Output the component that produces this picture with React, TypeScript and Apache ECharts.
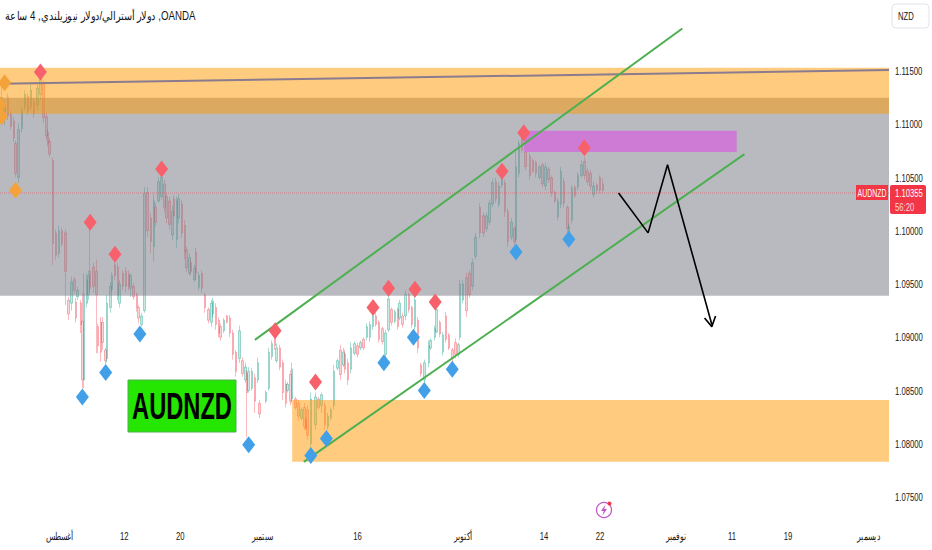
import React, { useEffect, useRef } from "react";
import * as echarts from "echarts";

// Prices are kept in pips above PRICE_BASE; time in 4-hour bars.
const PRICE_BASE = 1.07;
const PIP = 0.0001;
const LAST_PRICE = 1.10355;

// [bar, open, close, low, high]
const augustBars = [
[1,405,425,399,437],[3,404,418,399,423],[5,425,408,404,429],[7,410,398,395,413],[9,403,387,383,407],[10,382,354,350,385],[12,350,395,345,401],[14,396,412,392,416],[16,416,428,413,432],[18,426,412,409,429],[20,416,432,413,438],[22,421,410,406,425],[24,418,434,413,439],[26,428,445,423,448],[28,438,406,401,441],[30,407,389,385,411],[31,392,382,379,395],[32,384,372,369,387],[34,366,288,268,369],[36,298,277,273,301],[38,279,300,275,305],[40,300,288,285,303],[42,298,262,230,301],
[44,235,222,216,238],[46,232,252,225,257],[48,254,244,241,257],[49,233,218,214,237],[50,238,244,235,247],[52,232,212,204,235],[53,215,160,152,242],[54,160,240,152,260],[56,232,254,228,260],[57,240,258,235,263],[58,262,246,242,302],[60,266,248,242,270],[62,262,240,185,273],[63,210,192,185,213],[65,214,186,177,219],[66,214,195,188,219],[68,188,178,174,190],[69,180,232,176,240],[71,228,248,223,252],[72,245,258,242,261],[74,268,258,254,273],[76,266,240,235,270],[77,232,250,228,254],[79,260,248,244,263],[81,262,248,242,266],[83,259,248,244,263],[84,246,258,238,260],[86,248,238,235,251],[88,240,228,224,242],[89,228,218,213,230],[91,212,220,210,223],[93,225,335,223,341],[95,336,300,294,341],[97,312,290,279,317],[99,285,328,271,335],[100,322,308,304,326],[102,328,346,326,350],[104,332,350,329,352],[106,344,322,317,348],[107,332,312,307,335],[109,328,306,301,332],[111,296,318,291,324],[112,330,314,313,333],[114,292,328,284,332],[115,312,330,307,334],[117,325,298,293,329],[119,305,280,273,310],[120,282,265,261,285],[122,260,275,258,279],[123,270,262,258,273],[125,254,265,252,268],[126,280,260,254,284],[128,247,258,244,261],[130,260,246,242,263],[132,240,228,223,242],[134,226,216,213,228],[136,214,232,210,235],[137,222,234,219,237],[139,228,212,207,232],[141,216,204,200,219],[142,210,200,197,213],[144,206,216,204,218],[146,220,214,213,221],[148,218,204,200,221],[150,204,184,179,207],[152,186,168,163,188],[154,180,206,176,211],[156,178,166,163,181],[158,160,172,157,176],[159,166,148,106,169],[160,150,168,148,172],[162,152,168,150,171],[164,162,140,129,166],[166,160,176,157,181],[167,138,128,124,141],
];
const septemberBars = [
[171,140,148,138,150],[173,152,186,150,190],[175,182,194,179,197],[177,200,192,188,206],[178,178,190,176,194],[180,190,172,169,193],[182,176,148,141,179],[184,156,138,134,160],[185,150,156,148,158],[187,165,140,136,169],[188,142,170,138,176],[190,142,134,132,144],[192,138,126,122,141],[194,124,132,122,134],[196,134,116,113,138],[197,122,114,113,125],[198,132,108,104,136],[200,100,142,94,148],[203,118,144,113,148],[205,142,134,132,144],[207,136,146,129,148],[209,136,118,113,139],[211,116,126,113,129],[213,124,132,122,134],[215,136,168,132,174],[217,171,178,169,180],[219,188,165,160,193],[221,174,186,172,190],[222,184,170,166,188],[224,176,160,155,180],[226,170,190,166,195],[228,185,194,183,196],[230,192,184,181,195],[232,190,195,188,197],[234,198,190,188,200],[236,200,210,197,213],[238,200,212,196,215],[240,210,220,207,226],[242,220,212,210,223],[244,214,198,195,216],[246,208,196,193,210],[248,184,204,181,207],[250,207,236,205,240],[252,226,214,211,228],[254,215,224,213,226],[256,226,210,207,228],[257,218,232,216,235],[259,220,212,209,223],[261,220,240,216,244],[263,240,226,223,242],[265,228,212,209,230],[267,210,235,207,240],[269,216,190,185,219],[271,174,166,163,176],[273,160,176,157,179],[276,176,192,172,197],[277,190,197,188,199],[280,200,208,197,211],[281,205,226,204,232],[283,214,203,200,216],[285,186,202,183,205],[287,220,198,195,224],[289,202,190,188,204],[291,188,180,177,190],[293,195,184,180,199],[295,184,193,181,195],[296,200,250,197,254],
];
const octoberBars = [
[298,235,250,232,254],[300,256,225,219,261],[302,260,240,237,263],[304,248,270,244,274],[306,276,294,273,298],[309,322,298,293,326],[311,314,298,294,317],[313,302,314,299,317],[315,308,326,305,329],[317,325,345,322,349],[319,346,330,326,350],[321,325,342,322,346],[323,343,356,340,360],[325,345,318,313,348],[327,318,290,285,321],[329,294,308,291,312],[331,302,290,287,305],[332,292,360,289,374],[334,354,382,350,385],[336,388,376,373,392],[338,374,360,357,376],[341,370,352,348,373],[343,366,356,354,368],[345,364,354,350,366],[347,350,360,348,362],[349,362,344,341,364],[351,342,360,338,364],[353,358,348,345,360],[355,350,336,332,352],[357,336,328,326,338],[359,313,328,310,331],[361,325,356,321,360],[363,346,326,322,350],[365,322,302,298,324],[366,295,304,293,307],[368,310,340,307,343],[370,341,333,331,343],[372,341,352,338,355],[374,352,362,350,366],[376,365,352,348,369],[378,356,346,343,359],[380,354,342,338,357],[382,334,342,331,346],[384,343,338,335,345],[386,350,338,335,352],[388,344,338,335,349],
];

// [bar, pips]
const sellSignals = [[26,449],[58,308],[74,278],[104,358],[177,206],[203,158],[240,228],[250,246],[267,245],[280,233],[323,356],[337,392],[376,378]];
const buySignals = [[53,144],[68,167],[90,203],[160,99],[200,89],[210,105],[247,176],[266,200],[273,150],[291,170],[332,280],[366,292]];
const earlySignals = [[3,439],[0,418],[1,407],[10,338]];

// Drawings: [bar, pips]
const resistanceLine = [[0,438],[572,451]];
const channelUpper = [[164,197.5],[439,490]];
const channelLower = [[195.5,83],[479,372]];
const projectedPath = [[398,335.5],[417,298],[429.5,362],[458,212]];
const projectedHead = [[453.3,218],[458,210],[460.4,220]];
// Zones: [bar from, bar to, pips low, pips high]
const grayZone = [0,572,239,425];
const upperZone = [0,572,410,453];
const lowerZone = [188,572,83,141];
const purpleZone = [337,474,374,394];

const xTickBars = [38.6,80,116,169,230,298,350,386,435,471,507,559];
const xTickLabels = ["أغسطس","12","20","سبتمبر","16","أكتوبر","14","22","نوفمبر","11","19","ديسمبر"];
const yTicks = [1.075,1.08,1.085,1.09,1.095,1.1,1.105,1.11,1.115];

const TITLE = "دولار أسترالي/دولار نيوزيلندي, 4 ساعة ,OANDA";
const SYMBOL = "AUDNZD";
const CURRENCY = "NZD";
const COUNTDOWN = "56:20";

const price = (p: number) => PRICE_BASE + p * PIP;
const pt = (a: number[]) => [a[0], price(a[1])];
const FONT = '"Liberation Sans", Arial, sans-serif';
const SQUEEZE = 0.7;

const zoneSeries = (z: number[], color: string, zIndex: number) => ({
  type: "scatter" as const,
  data: [],
  z: zIndex,
  silent: true,
  markArea: {
    silent: true,
    z: zIndex,
    itemStyle: { color, borderWidth: 0 },
    data: [[{ xAxis: z[0], yAxis: price(z[2]) }, { xAxis: z[1], yAxis: price(z[3]) }]],
  },
});
const lineSeries = (pts: number[][], color: string, width: number, z: number, type: string = "solid") => ({
  type: "line" as const,
  data: pts.map(pt),
  z,
  silent: true,
  symbol: "none",
  lineStyle: { color, width, type },
});
const diamonds = (pts: number[][], color: string) => ({
  type: "scatter" as const,
  data: pts.map(pt),
  z: 8,
  clip: false,
  silent: true,
  symbol: "diamond",
  symbolSize: [13, 17],
  itemStyle: { color, opacity: 1 },
});
const squeezed = (text: string, x: number, y: number, fill: string, size = 11, align = "left", scaleX = SQUEEZE) => ({
  type: "text" as const,
  x,
  y,
  z: 21,
  scaleX,
  style: { text, fill, align, verticalAlign: "middle", font: `${size}px ${FONT}` },
});

export default function App() {
  const ref = useRef<HTMLDivElement>(null);
  useEffect(() => {
    const chart = echarts.init(ref.current!, null, { renderer: "svg" });
    const candles = [...augustBars, ...septemberBars, ...octoberBars].map((r) => [r[0], price(r[1]), price(r[2]), price(r[3]), price(r[4])]);
    chart.setOption({
      animation: false,
      backgroundColor: "#ffffff",
      grid: { left: 0, right: 43, top: 0, bottom: 30, outerBoundsMode: "none" },
      xAxis: {
        type: "value",
        min: 0,
        max: 572,
        axisLine: { show: false },
        axisTick: { show: false },
        splitLine: { show: false },
        axisLabel: { show: false },
      },
      yAxis: {
        type: "value",
        position: "right",
        min: 1.07284,
        max: 1.12167,
        axisLine: { show: false },
        axisTick: { show: false },
        splitLine: { show: false },
        axisLabel: { show: false },
      },
      series: [
        {
          type: "candlestick",
          data: candles,
          encode: { x: 0, y: [1, 2, 3, 4] },
          barWidth: 2,
          z: 2,
          silent: true,
          itemStyle: {
            color: "rgba(8,153,129,0.22)",
            color0: "rgba(242,54,69,0.22)",
            borderColor: "rgba(8,153,129,0.34)",
            borderColor0: "rgba(242,54,69,0.34)",
            borderWidth: 1,
          },
        },
        zoneSeries(grayZone, "rgba(120,123,134,0.52)", 3),
        zoneSeries(upperZone, "rgba(255,152,0,0.5)", 4),
        zoneSeries(lowerZone, "rgba(255,152,0,0.5)", 4),
        zoneSeries(purpleZone, "#ce7bd6", 4),
        lineSeries([[0, (LAST_PRICE - PRICE_BASE) / PIP], [572, (LAST_PRICE - PRICE_BASE) / PIP]], "rgba(242,54,69,0.45)", 1, 5, "dotted"),
        lineSeries(resistanceLine, "#8a7b8e", 2, 6),
        lineSeries(channelUpper, "#4caf50", 2, 6),
        lineSeries(channelLower, "#4caf50", 2, 6),
        lineSeries(projectedPath, "#000000", 1.6, 6),
        lineSeries(projectedHead, "#000000", 1.6, 6),
        diamonds(sellSignals, "#f7616c"),
        diamonds(buySignals, "#42a0e8"),
        diamonds(earlySignals, "#f4a23a"),
      ],
    });
    const yLabels = yTicks.map((v) => squeezed(v.toFixed(5), 895, chart.convertToPixel({ yAxisIndex: 0 }, v) as number, "#131722"));
    const xLabels = xTickBars.map((b, i) => squeezed(xTickLabels[i], chart.convertToPixel({ xAxisIndex: 0 }, b) as number, 536, "#131722", 11, "center"));
    chart.setOption({
      graphic: [
        ...yLabels,
        ...xLabels,
        squeezed(TITLE, 5, 16, "#131722", 12, "left", 0.81),
        { type: "rect", z: 20, shape: { x: 892, y: 4, width: 37, height: 24, r: 4 }, style: { fill: "#ffffff", stroke: "#e0e3eb", lineWidth: 1 } },
        squeezed(CURRENCY, 898, 16, "#131722"),
        { type: "rect", z: 20, shape: { x: 128, y: 380, width: 108, height: 52 }, style: { fill: "#24e600", stroke: "#4caf50", lineWidth: 1 } },
        { type: "text", x: 182, y: 406, z: 21, scaleX: 0.64, style: { text: SYMBOL, fill: "#000000", align: "center", verticalAlign: "middle", font: `bold 37px ${FONT}` } },
        { type: "rect", z: 20, shape: { x: 856, y: 185, width: 32, height: 15 }, style: { fill: "#f23645" } },
        squeezed(SYMBOL, 872, 193, "#ffffff", 11, "center", 0.63),
        { type: "rect", z: 20, shape: { x: 890, y: 185, width: 36, height: 29, r: 2 }, style: { fill: "#f23645" } },
        squeezed(LAST_PRICE.toFixed(5), 895, 193, "#ffffff"),
        squeezed(COUNTDOWN, 895, 207, "#ffd6da"),
        { type: "circle", z: 20, shape: { cx: 604, cy: 510, r: 7.5 }, style: { fill: "#ffffff", stroke: "#c25bc6", lineWidth: 1.3 } },
        { type: "polygon", z: 21, shape: { points: [[605.5,504.5],[601,511],[603.7,511],[602.5,515.5],[607,509],[604.3,509]] }, style: { fill: "#c25bc6" } },
        { type: "circle", z: 22, shape: { cx: 609.5, cy: 503.5, r: 2 }, style: { fill: "#f23645" } },
      ],
    });
    return () => chart.dispose();
  }, []);
  return <div ref={ref} style={{ position: "absolute", left: 0, top: 0, width: 932, height: 550 }} />;
}
